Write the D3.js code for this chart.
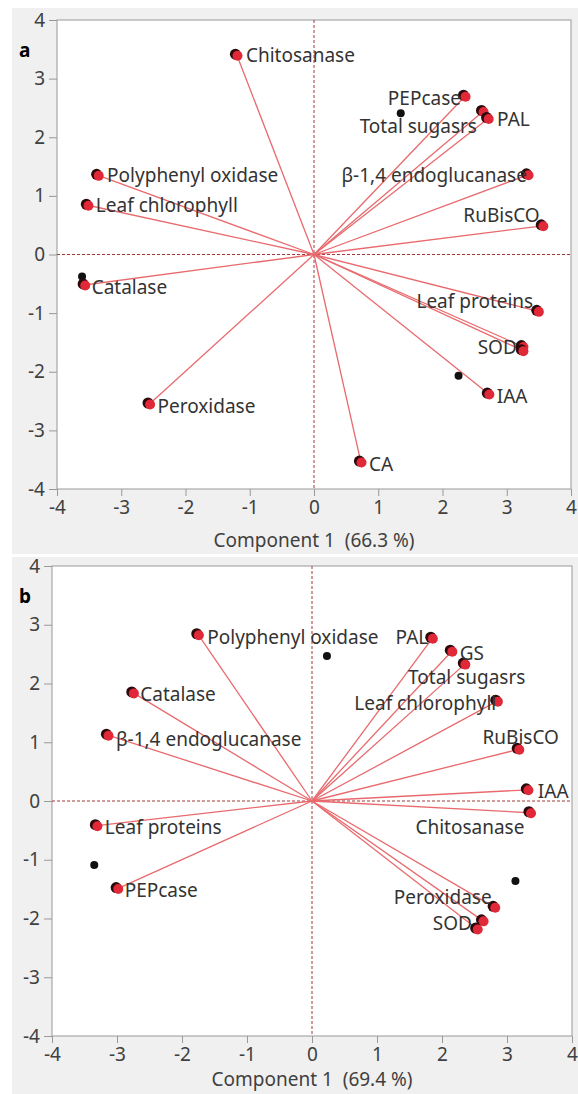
<!DOCTYPE html>
<html>
<head>
<meta charset="utf-8">
<script src="https://cdn.jsdelivr.net/npm/d3@7"></script>
<style>
  body { margin: 0; background: #fff; }
  svg text { font-family: "Noto Sans", "Open Sans", sans-serif; white-space: pre; }
</style>
</head>
<body>
<div id="chart"></div>
<script>
// loadings and scores
var namesA = ["Chitosanase", "PEPcase", "Total sugasrs", "PAL", "β-1,4 endoglucanase", "RuBisCO",
  "Polyphenyl oxidase", "Leaf chlorophyll", "Catalase", "Leaf proteins", "SOD", "GS", "IAA", "Peroxidase", "CA"];
var pc1A = [-1.20, 2.35, 2.63, 2.71, 3.33, 3.56, -3.36, -3.52, -3.57, 3.49, 3.25, 3.25, 2.72, -2.56, 0.73];
var pc2A = [3.40, 2.70, 2.44, 2.32, 1.36, 0.49, 1.35, 0.84, -0.52, -0.97, -1.57, -1.64, -2.38, -2.55, -3.54];
var scoreXA = [-3.61, 1.35, 2.25];
var scoreYA = [-0.375, 2.41, -2.07];

var namesB = ["Polyphenyl oxidase", "Catalase", "β-1,4 endoglucanase", "PAL", "GS", "Total sugasrs",
  "Leaf chlorophyll", "RuBisCO", "IAA", "Chitosanase", "Leaf proteins", "PEPcase", "Peroxidase", "SOD", "CA"];
var pc1B = [-1.75, -2.75, -3.14, 1.85, 2.15, 2.35, 2.85, 3.18, 3.32, 3.36, -3.31, -2.99, 2.81, 2.63, 2.54];
var pc2B = [2.83, 1.84, 1.12, 2.77, 2.55, 2.33, 1.70, 0.88, 0.19, -0.20, -0.42, -1.49, -1.81, -2.04, -2.18];
var scoreXB = [0.23, -3.35, 3.13];
var scoreYB = [2.47, -1.09, -1.36];

var ticks = [-4, -3, -2, -1, 0, 1, 2, 3, 4];
var titleA = "Component 1  (66.3 %)";
var titleB = "Component 1  (69.4 %)";

// label placement: [dx, dy, anchor]; null = label hidden
var placeA = {
  "Chitosanase": [9, 0, "start"], "PEPcase": [-4, 2, "end"], "Total sugasrs": [-6, 15, "end"],
  "PAL": [9, 1, "start"], "β-1,4 endoglucanase": [-1, 0, "end"], "RuBisCO": [-3, -11, "end"],
  "Polyphenyl oxidase": [9, 0, "start"], "Leaf chlorophyll": [8, 0, "start"], "Catalase": [7, 2, "start"],
  "Leaf proteins": [-5, -10, "end"], "SOD": [-6, 0, "end"], "GS": null, "IAA": [8, 2, "start"],
  "Peroxidase": [8, 2, "start"], "CA": [8, 2, "start"]
};
var placeB = {
  "Polyphenyl oxidase": [9, 2, "start"], "Catalase": [7, 1, "start"], "β-1,4 endoglucanase": [8, 4, "start"],
  "PAL": [-4, -1, "end"], "GS": [8, 2, "start"], "Total sugasrs": [2, 13, "middle"],
  "Leaf chlorophyll": [-1, 2, "end"], "RuBisCO": [2, -12, "middle"], "IAA": [10, 1, "start"],
  "Chitosanase": [-6, 14, "end"], "Leaf proteins": [8, 1, "start"], "PEPcase": [7, 1, "start"],
  "Peroxidase": [-3, -10, "end"], "SOD": [-11, 2, "end"], "CA": null
};

var W = 578, H = 1094;
var svg = d3.select("#chart").append("svg").attr("width", W).attr("height", H);

function panel(opt) {
  var g = svg.append("g");
  g.append("rect").attr("x", 12).attr("y", opt.bgTop).attr("width", W - 12).attr("height", opt.bgBottom - opt.bgTop)
    .attr("fill", "#f0f0f0");

  var x = d3.scaleLinear().domain([-4, 4]).range([opt.left, opt.right]);
  var y = d3.scaleLinear().domain([-4, 4]).range([opt.bottom, opt.top]);

  g.append("rect").attr("x", opt.left).attr("y", opt.top)
    .attr("width", opt.right - opt.left).attr("height", opt.bottom - opt.top)
    .attr("fill", "#fff").attr("stroke", "#a8a8a8").attr("stroke-width", 1.2);

  var xAxis = g.append("g").attr("transform", "translate(0," + opt.bottom + ")")
    .call(d3.axisBottom(x).tickValues(ticks).tickSize(7).tickPadding(5).tickFormat(d3.format("d")));
  var yAxis = g.append("g").attr("transform", "translate(" + opt.left + ",0)")
    .call(d3.axisLeft(y).tickValues(ticks).tickSize(8).tickPadding(4).tickFormat(d3.format("d")));
  [xAxis, yAxis].forEach(function(a) {
    a.select(".domain").remove();
    a.selectAll(".tick line").attr("stroke", "#999");
    a.selectAll(".tick text").attr("font-size", 19).attr("fill", "#404040")
      .style("font-family", "\"Noto Sans\", sans-serif").text(function(d) { return d < 0 ? "-" + (-d) : d; });
  });

  // zero reference lines
  g.append("line").attr("x1", x(0)).attr("x2", x(0)).attr("y1", opt.top).attr("y2", opt.bottom)
    .attr("stroke", "#a03838").attr("stroke-width", 1).attr("stroke-dasharray", "3,2");
  g.append("line").attr("x1", opt.left).attr("x2", opt.right).attr("y1", y(0)).attr("y2", y(0))
    .attr("stroke", "#a03838").attr("stroke-width", 1).attr("stroke-dasharray", "3,2");

  var data = opt.names.map(function(n, i) { return { name: n, x: opt.pc1[i], y: opt.pc2[i] }; });

  g.selectAll(".ray").data(data).enter().append("line").attr("class", "ray")
    .attr("x1", x(0)).attr("y1", y(0))
    .attr("x2", function(d) { return x(d.x); }).attr("y2", function(d) { return y(d.y); })
    .attr("stroke", "#e86a6e").attr("stroke-width", 1.3);

  g.selectAll(".score").data(opt.sx).enter().append("circle").attr("class", "score")
    .attr("cx", function(d) { return x(d); }).attr("cy", function(d, i) { return y(opt.sy[i]); })
    .attr("r", 4).attr("fill", "#111");

  var pts = g.selectAll(".pt").data(data).enter().append("g").attr("class", "pt")
    .attr("transform", function(d) { return "translate(" + x(d.x) + "," + y(d.y) + ")"; });
  pts.append("circle").attr("cx", -1.5).attr("cy", -1).attr("r", 5.5).attr("fill", "#2a0a0a");
  pts.append("circle").attr("cx", 0.6).attr("cy", 0.5).attr("r", 5).attr("fill", "#e02838");

  g.selectAll(".lab").data(data.filter(function(d) { return opt.place[d.name]; })).enter()
    .append("text").attr("class", "lab")
    .attr("x", function(d) { return x(d.x) + opt.place[d.name][0]; })
    .attr("y", function(d) { return y(d.y) + opt.place[d.name][1]; })
    .attr("text-anchor", function(d) { return opt.place[d.name][2]; })
    .attr("dominant-baseline", "central")
    .attr("font-size", 19).attr("fill", "#333")
    .text(function(d) { return d.name; });

  g.append("text").attr("x", (opt.left + opt.right) / 2).attr("y", opt.titleY)
    .attr("text-anchor", "middle").attr("dominant-baseline", "central")
    .attr("font-size", 19).attr("fill", "#404040").text(opt.title);

  g.append("text").attr("x", 19).attr("y", opt.top + 30).attr("dominant-baseline", "central")
    .attr("font-size", 19).attr("font-weight", "bold").attr("fill", "#000").text(opt.letter);
}

panel({ names: namesA, pc1: pc1A, pc2: pc2A, sx: scoreXA, sy: scoreYA, place: placeA,
  left: 57, right: 571, top: 20, bottom: 489, bgTop: 8, bgBottom: 554, titleY: 540,
  title: titleA, letter: "a" });
panel({ names: namesB, pc1: pc1B, pc2: pc2B, sx: scoreXB, sy: scoreYB, place: placeB,
  left: 52, right: 572, top: 566, bottom: 1036, bgTop: 557, bgBottom: 1094, titleY: 1079,
  title: titleB, letter: "b" });
</script>
</body>
</html>
